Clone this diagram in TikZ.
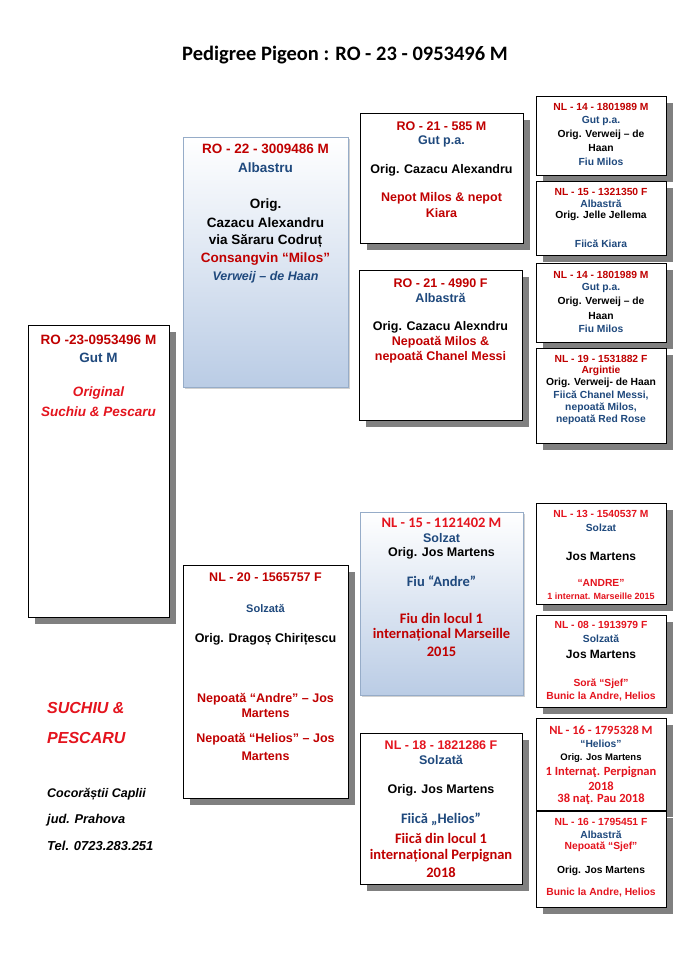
\documentclass[tikz,border=0pt]{standalone}
\usepackage{fontspec}
\setmainfont{Liberation Sans}
\newfontfamily\calfont{Carlito}
\usetikzlibrary{shadows}
\definecolor{dred}{RGB}{192,0,0}
\definecolor{bred}{RGB}{228,20,30}
\definecolor{dblue}{RGB}{31,73,125}
\definecolor{shgray}{RGB}{128,128,128}
\definecolor{gblue}{RGB}{186,204,229}
\definecolor{gborder}{RGB}{150,172,200}
\newcommand\fsz[1]{\fontsize{#1}{#1}\selectfont}
\begin{document}
\begin{tikzpicture}[x=1pt,y=-1pt,
 pbox/.style={draw=black, line width=0.9pt, fill=white, inner sep=0pt, anchor=north west,
   drop shadow={shadow xshift=7pt, shadow yshift=-7pt, fill=shgray, opacity=1}},
 gbox/.style={draw=gborder, line width=0.9pt, top color=white, bottom color=gblue, inner sep=0pt, anchor=north west,
   drop shadow={shadow xshift=2pt, shadow yshift=-2pt, fill=black, opacity=0.18}},
 ar/.style={inner sep=0pt, font=\fsz{#1}\bfseries},
 ai/.style={inner sep=0pt, font=\fsz{#1}\bfseries\itshape},
 ca/.style={inner sep=0pt, font=\calfont\fsz{#1}\bfseries},
]
\useasboundingbox (0,0) rectangle (685,968);
\fill[white] (0,0) rectangle (685,968);

\node[ca=20.5] (title) at (345,55) {Pedigree Pigeon : RO - 23 - 0953496 M};

% ---------- generation 1
\node[pbox, minimum width=141pt, minimum height=292pt] (b0) at (28,325) {};
\node[ar=13.5, text=dred] (b0a) at (98.5,340) {RO -23-0953496 M};
\node[ar=13.5, text=dblue] (b0b) at (98.5,358) {Gut M};
\node[ai=13.5, text=bred] (b0c) at (98.5,393) {Original};
\node[ai=13.5, text=bred] (b0d) at (98.5,412) {Suchiu \& Pescaru};

\node[ai=16, text=bred, anchor=west] (own1) at (47,708) {SUCHIU \&};
\node[ai=16, text=bred, anchor=west] (own2) at (47,738) {PESCARU};
\node[ai=12.5, anchor=west] (own3) at (47,794) {Cocorăștii Caplii};
\node[ai=12.8, anchor=west] (own4) at (47,820) {jud. Prahova};
\node[ai=13, anchor=west] (own5) at (47,846) {Tel. 0723.283.251};

% ---------- generation 2
\node[gbox, minimum width=165pt, minimum height=250pt] (s) at (183,137) {};
\node[ar=13.5, text=dred] (sa) at (265.5,149) {RO - 22 - 3009486 M};
\node[ar=13.5, text=dblue] (sb) at (265.5,168) {Albastru};
\node[ar=13.5] (sc) at (265.5,205) {Orig.};
\node[ar=13.5] (sd) at (265.5,223) {Cazacu Alexandru};
\node[ar=13.5] (se) at (265.5,241) {via Săraru Codruț};
\node[ar=13.5, text=dred] (sf) at (265.5,259) {Consangvin “Milos”};
\node[ai=12.5, text=dblue] (sg) at (265.5,277) {Verweij – de Haan};

\node[pbox, minimum width=165pt, minimum height=233pt] (d) at (183,565) {};
\node[ar=12.5, text=dred] (da) at (265.5,577) {NL - 20 - 1565757 F};
\node[ar=11, text=dblue] (db) at (265.5,609) {Solzată};
\node[ar=12.5] (dc) at (265.5,639) {Orig. Dragoș Chirițescu};
\node[ar=12.5, text=dred] (dd) at (265.5,699) {Nepoată “Andre” – Jos};
\node[ar=12.5, text=dred] (de) at (265.5,713) {Martens};
\node[ar=12.5, text=dred] (df) at (265.5,739) {Nepoată “Helios” – Jos};
\node[ar=12.5, text=dred] (dg) at (265.5,756) {Martens};

% ---------- generation 3
\node[pbox, minimum width=163pt, minimum height=130pt] (ss) at (360,113) {};
\node[ar=12.5, text=dred] (ssa) at (441.5,126) {RO - 21 - 585 M};
\node[ar=12.5, text=dblue] (ssb) at (441.5,141) {Gut p.a.};
\node[ar=12.5] (ssc) at (441.5,170) {Orig. Cazacu Alexandru};
\node[ar=12.5, text=dred] (ssd) at (441.5,198) {Nepot Milos \& nepot};
\node[ar=12.5, text=dred] (sse) at (441.5,213) {Kiara};

\node[pbox, minimum width=163pt, minimum height=150pt] (sd) at (359,270) {};
\node[ar=12.5, text=dred] (sda) at (440.5,283) {RO - 21 - 4990 F};
\node[ar=12.5, text=dblue] (sdb) at (440.5,298) {Albastră};
\node[ar=12.5] (sdc) at (440.5,327) {Orig. Cazacu Alexndru};
\node[ar=12.5, text=dred] (sdd) at (440.5,342) {Nepoată Milos \&};
\node[ar=12.5, text=dred] (sde) at (440.5,357) {nepoată Chanel Messi};

\node[gbox, minimum width=163pt, minimum height=183pt] (ds) at (360,512) {};
\node[ca=14.5, text=bred] (dsa) at (441.5,523) {NL - 15 - 1121402 M};
\node[ar=12.5, text=dblue] (dsb) at (441.5,538) {Solzat};
\node[ar=12.5] (dsc) at (441.5,553) {Orig. Jos Martens};
\node[ca=14.5, text=dblue] (dsd) at (441.5,581) {Fiu “Andre”};
\node[ca=14.5, text=dred] (dse) at (441.5,618) {Fiu din locul 1};
\node[ca=14.5, text=dred] (dsf) at (441.5,635) {internațional Marseille};
\node[ca=14.5, text=dred] (dsg) at (441.5,652) {2015};

\node[pbox, minimum width=162pt, minimum height=151pt] (dd0) at (360,733) {};
\node[ar=12.5, text=bred] (dda) at (441,745) {NL - 18 - 1821286 F};
\node[ar=12.5, text=dblue] (ddb) at (441,760) {Solzată};
\node[ar=12.5] (ddc) at (441,790) {Orig. Jos Martens};
\node[ca=14.5, text=dblue] (ddd) at (441,819) {Fiică „Helios”};
\node[ca=14.5, text=dred] (dde) at (441,838) {Fiică din locul 1};
\node[ca=14.5, text=dred] (ddf) at (441,856) {internațional Perpignan};
\node[ca=14.5, text=dred] (ddg) at (441,873) {2018};

% ---------- generation 4
\node[pbox, minimum width=130pt, minimum height=79pt] (g1) at (536,96) {};
\node[ar=10.3, text=dred] (g1a) at (601,107) {NL - 14 - 1801989 M};
\node[ar=10.3, text=dblue] (g1b) at (601,121) {Gut p.a.};
\node[ar=10.3] (g1c) at (601,135) {Orig. Verweij – de};
\node[ar=10.3] (g1d) at (601,148) {Haan};
\node[ar=10.3, text=dblue] (g1e) at (601,162) {Fiu Milos};

\node[pbox, minimum width=130pt, minimum height=74pt] (g2) at (536,181) {};
\node[ar=10.3, text=dred] (g2a) at (601,192) {NL - 15 - 1321350 F};
\node[ar=10.3, text=dblue] (g2b) at (601,204) {Albastră};
\node[ar=10.3] (g2c) at (601,216) {Orig. Jelle Jellema};
\node[ar=10.3, text=dblue] (g2d) at (601,244) {Fiică Kiara};

\node[pbox, minimum width=130pt, minimum height=79pt] (g3) at (536,263) {};
\node[ar=10.3, text=dred] (g3a) at (601,275) {NL - 14 - 1801989 M};
\node[ar=10.3, text=dblue] (g3b) at (601,288) {Gut p.a.};
\node[ar=10.3] (g3c) at (601,302) {Orig. Verweij – de};
\node[ar=10.3] (g3d) at (601,316) {Haan};
\node[ar=10.3, text=dblue] (g3e) at (601,329) {Fiu Milos};

\node[pbox, minimum width=130pt, minimum height=95pt] (g4) at (536,348) {};
\node[ar=10.3, text=dred] (g4a) at (601,359) {NL - 19 - 1531882 F};
\node[ar=10.3, text=dred] (g4b) at (601,371) {Argintie};
\node[ar=10.3] (g4c) at (601,383) {Orig. Verweij- de Haan};
\node[ar=10.3, text=dblue] (g4d) at (601,396) {Fiică Chanel Messi,};
\node[ar=10.3, text=dblue] (g4e) at (601,408) {nepoată Milos,};
\node[ar=10.3, text=dblue] (g4f) at (601,420) {nepoată Red Rose};

\node[pbox, minimum width=130pt, minimum height=101pt] (g5) at (536,503) {};
\node[ar=10.3, text=bred] (g5a) at (601,514) {NL - 13 - 1540537 M};
\node[ar=10.3, text=dblue] (g5b) at (601,528) {Solzat};
\node[ar=12] (g5c) at (601,556) {Jos Martens};
\node[ar=10.3, text=bred] (g5d) at (601,583) {“ANDRE”};
\node[ar=9, text=bred] (g5e) at (601,596) {1 internat. Marseille 2015};

\node[pbox, minimum width=130pt, minimum height=92pt] (g6) at (536,615) {};
\node[ar=10.3, text=bred] (g6a) at (601,625) {NL - 08 - 1913979 F};
\node[ar=10.3, text=dblue] (g6b) at (601,639) {Solzată};
\node[ar=12] (g6c) at (601,654) {Jos Martens};
\node[ar=10.3, text=bred] (g6d) at (601,684) {Soră “Sjef”};
\node[ar=10.3, text=bred] (g6e) at (601,697) {Bunic la Andre, Helios};

\node[pbox, minimum width=130pt, minimum height=92pt] (g7) at (536,718) {};
\node[ca=12.5, text=bred] (g7a) at (601,730) {NL - 16 - 1795328 M};
\node[ar=10.3, text=dblue] (g7b) at (601,744) {“Helios”};
\node[ar=9.5] (g7c) at (601,758) {Orig. Jos Martens};
\node[ca=12.5, text=bred] (g7d) at (601,772) {1 Internaţ. Perpignan};
\node[ca=12.5, text=bred] (g7e) at (601,786) {2018};
\node[ca=12.5, text=bred] (g7f) at (601,799) {38 naţ. Pau 2018};

\node[pbox, minimum width=130pt, minimum height=96pt] (g8) at (536,811) {};
\node[ar=10.3, text=bred] (g8a) at (601,822) {NL - 16 - 1795451 F};
\node[ar=10.3, text=dblue] (g8b) at (601,835) {Albastră};
\node[ar=10.3, text=bred] (g8c) at (601,847) {Nepoată “Sjef”};
\node[ar=10.3] (g8d) at (601,871) {Orig. Jos Martens};
\node[ar=10.3, text=bred] (g8e) at (601,893) {Bunic la Andre, Helios};
\end{tikzpicture}
\end{document}
